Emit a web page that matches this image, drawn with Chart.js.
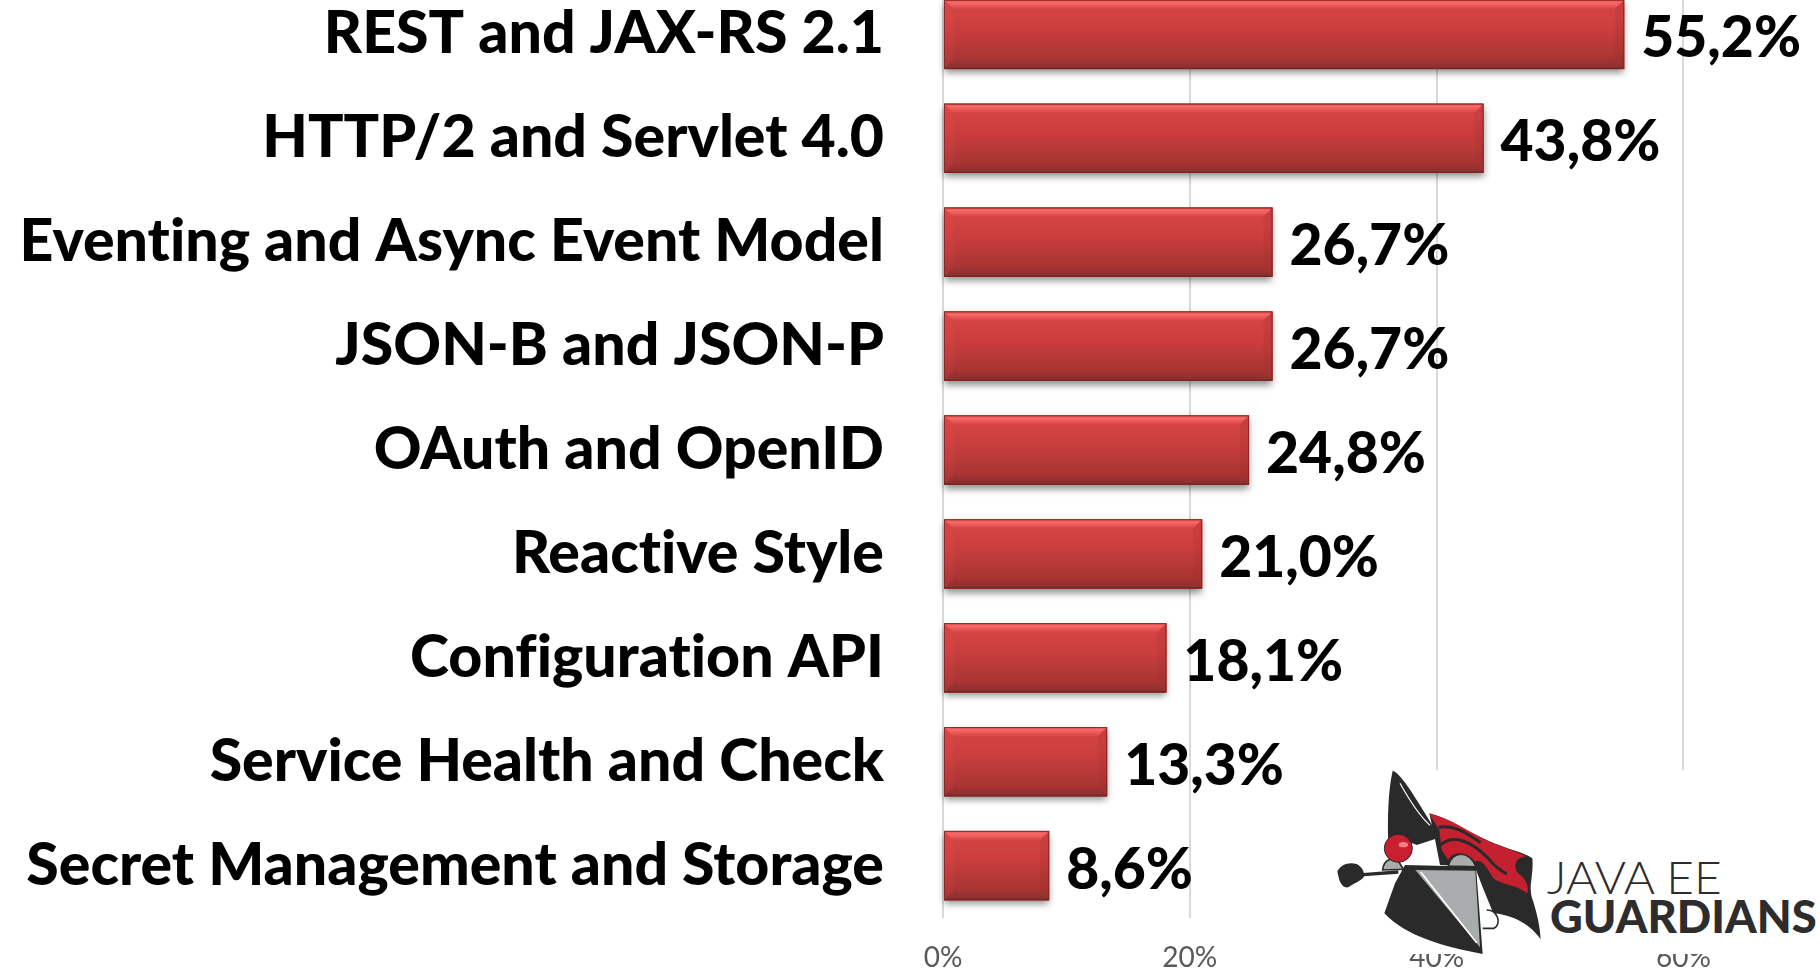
<!DOCTYPE html>
<html>
<head>
<meta charset="utf-8">
<title>Java EE 8 features</title>
<script src="https://cdn.jsdelivr.net/npm/chart.js@4"></script>
<style>
    html, body { margin: 0; padding: 0; width: 1820px; height: 969px; overflow: hidden; background: #fff; }
    #wrap { position: absolute; left: 0; top: -18px; width: 1820px; height: 987px; }
    #logo { position: absolute; left: 1320px; top: 750px; width: 500px; height: 219px; }
</style>
</head>
<body>
<div id="wrap"><canvas id="featureChart"></canvas></div>

<svg id="logo" viewBox="0 0 1500 657">
    <rect x="0" y="60" width="1500" height="552" fill="#fff"/>
    <!-- cape -->
    <path d="M345,268 L328,190 C375,200 430,240 500,270 C560,298 610,305 637,325 C642,380 622,410 640,455 C652,495 660,530 662,568 C625,515 570,495 520,490 C505,450 490,420 465,350 L360,345 Z" fill="#2b2a2b"/>
    <path d="M328,192 C375,198 425,232 470,255 C520,285 585,300 625,322 C590,328 575,345 595,370 C615,385 628,405 622,430 C590,405 545,405 520,385 C500,350 485,325 465,335 C440,305 400,300 385,330 L365,300 L358,240 Z" fill="#c4202f"/>
    <path d="M356,232 C400,222 440,250 482,278 M362,285 C400,250 455,275 505,325 C520,345 540,360 560,372 M600,350 C590,340 585,330 625,322" fill="none" stroke="#2b2a2b" stroke-width="9"/>
    <path d="M385,348 C395,302 450,300 467,350 Z" fill="#a9acad" stroke="#2b2a2b" stroke-width="4"/>
    <!-- hat -->
    <path d="M218,62 C245,70 290,150 345,238 L357,263 L290,285 C255,268 225,265 205,282 C202,200 205,120 218,62 Z" fill="#2b2a2b"/>
    <path d="M240,100 C265,145 295,195 330,226" fill="none" stroke="#fff" stroke-width="3.5"/>
    <!-- nose and mace -->
    <path d="M188,360 C192,325 218,322 236,335 L250,358 Z" fill="#a9acad" stroke="#2b2a2b" stroke-width="5"/>
    <path d="M130,374 L235,366" stroke="#2b2a2b" stroke-width="10"/>
    <path d="M52,365 C60,345 85,335 110,342 C125,350 135,365 132,380 C120,395 100,400 85,412 C70,415 62,400 58,390 Z" fill="#2b2a2b"/>
    <circle cx="235" cy="295" r="42" fill="#c91f2e" stroke="#2b2a2b" stroke-width="3"/>
    <ellipse cx="250" cy="284" rx="14" ry="8" fill="#f4808a"/>
    <!-- shield -->
    <path d="M500,480 C530,478 548,520 522,535 L488,535" fill="#fff" stroke="#2b2a2b" stroke-width="5"/>
    <path d="M255,345 L468,350 L488,612 C370,590 260,560 193,490 L225,400 Z" fill="#2b2a2b"/>
    <path d="M286,360 L466,362 L480,592 Z" fill="#a9acad"/>
    <path d="M302,366 L470,578" stroke="#fff" stroke-width="5"/>
    <!-- wordmark -->
    <text x="680" y="432" font-family="Lato, 'Open Sans'" font-weight="300" font-size="135" fill="#2e2c2c" textLength="525" lengthAdjust="spacingAndGlyphs">JAVA EE</text>
    <text x="690" y="548" font-family="Lato, 'Open Sans'" font-weight="900" font-size="135" fill="#2e2c2c" textLength="800" lengthAdjust="spacingAndGlyphs">GUARDIANS</text>
</svg>

<script>
const categories = [
    'REST and JAX-RS 2.1',
    'HTTP/2 and Servlet 4.0',
    'Eventing and Async Event Model',
    'JSON-B and JSON-P',
    'OAuth and OpenID',
    'Reactive Style',
    'Configuration API',
    'Service Health and Check',
    'Secret Management and Storage'
];
const percentages = [55.2, 43.8, 26.7, 26.7, 24.8, 21.0, 18.1, 13.3, 8.6];
const axisMax = 70.5;
const axisStep = 20;

// a tiny letter spacing switches off the ti and fi ligatures of Lato
const noLigatures = {
    id: 'noLigatures',
    beforeDraw(chart) {
        chart.ctx.letterSpacing = '0.01px';
    }
};

// soft shadow under each bar, has to sit below the bars
const barShadow = {
    id: 'barShadow',
    beforeDatasetsDraw(chart) {
        const ctx = chart.ctx;
        ctx.save();
        ctx.shadowColor = 'rgba(0,0,0,0.45)';
        ctx.shadowBlur = 7;
        ctx.shadowOffsetY = 4;
        ctx.fillStyle = '#8a3030';
        chart.getDatasetMeta(0).data.forEach(bar => {
            const p = bar.getProps(['x', 'y', 'base', 'height']);
            ctx.fillRect(p.base, p.y - p.height / 2, p.x - p.base, p.height);
        });
        ctx.restore();
    }
};

// bevel look of the bars, painted over the plain rectangles
const barBevel = {
    id: 'barBevel',
    afterDatasetsDraw(chart) {
        const ctx = chart.ctx;
        const b = 9;
        chart.getDatasetMeta(0).data.forEach(bar => {
            const p = bar.getProps(['x', 'y', 'base', 'height']);
            const l = p.base, r = p.x, t = p.y - p.height / 2, h = p.height, e = t + h;

            const body = ctx.createLinearGradient(0, t, 0, e);
            body.addColorStop(0, '#d84545');
            body.addColorStop(0.4, '#cb3f3e');
            body.addColorStop(0.85, '#a93533');
            body.addColorStop(1, '#9a3230');
            ctx.fillStyle = body;
            ctx.fillRect(l, t, r - l, h);

            const top = ctx.createLinearGradient(0, t, 0, t + b);
            top.addColorStop(0, '#d94a4a');
            top.addColorStop(0.3, '#fb6a68');
            top.addColorStop(1, '#d84747');
            ctx.fillStyle = top;
            trapezoid(ctx, l, t, r, t, r - b, t + b, l + b, t + b);

            const bottom = ctx.createLinearGradient(0, e - b, 0, e);
            bottom.addColorStop(0, '#a33432');
            bottom.addColorStop(0.75, '#8c3230');
            bottom.addColorStop(1, '#6f2826');
            ctx.fillStyle = bottom;
            trapezoid(ctx, l, e, r, e, r - b, e - b, l + b, e - b);

            ctx.fillStyle = 'rgba(150,45,45,0.18)';
            trapezoid(ctx, r, t, r, e, r - b, e - b, r - b, t + b);
            ctx.fillStyle = 'rgba(235,90,90,0.12)';
            trapezoid(ctx, l, t, l, e, l + b, e - b, l + b, t + b);

            ctx.strokeStyle = 'rgba(125,35,35,0.8)';
            ctx.lineWidth = 1;
            ctx.strokeRect(l + 0.5, t + 0.5, r - l - 1, h - 1);
        });
    }
};

function trapezoid(ctx, x1, y1, x2, y2, x3, y3, x4, y4) {
    ctx.beginPath();
    ctx.moveTo(x1, y1);
    ctx.lineTo(x2, y2);
    ctx.lineTo(x3, y3);
    ctx.lineTo(x4, y4);
    ctx.closePath();
    ctx.fill();
}

const valueLabels = {
    id: 'valueLabels',
    afterDatasetsDraw(chart) {
        const ctx = chart.ctx;
        ctx.save();
        ctx.font = '900 57px Lato';
        ctx.fillStyle = '#000';
        ctx.textAlign = 'left';
        ctx.textBaseline = 'alphabetic';
        chart.getDatasetMeta(0).data.forEach((bar, i) => {
            const text = percentages[i].toFixed(1).replace('.', ',') + '%';
            ctx.fillText(text, bar.x + 17, bar.y + 23);
        });
        ctx.restore();
    }
};

new Chart(document.getElementById('featureChart'), {
    type: 'bar',
    data: {
        labels: categories,
        datasets: [{
            data: percentages,
            backgroundColor: '#c43c3c',
            barPercentage: 0.667,
            categoryPercentage: 1
        }]
    },
    options: {
        indexAxis: 'y',
        responsive: true,
        maintainAspectRatio: false,
        animation: false,
        layout: { padding: { top: 0.5, right: 7, left: 0, bottom: 0 } },
        plugins: {
            legend: { display: false },
            tooltip: { enabled: false }
        },
        scales: {
            y: {
                // the big labels would otherwise push the plot area inwards
                afterFit(axis) {
                    axis.width = 943;
                    axis.paddingTop = 0;
                    axis.paddingBottom = 0;
                },
                grid: { display: false },
                border: { display: false },
                ticks: {
                    color: '#000',
                    padding: 51,
                    autoSkip: false,
                    font: { family: 'Lato', weight: '900', size: 59 }
                }
            },
            x: {
                min: 0,
                max: axisMax,
                afterFit(axis) {
                    axis.height = 51.5;
                    axis.paddingLeft = 0;
                    axis.paddingRight = 0;
                },
                grid: { color: '#d9d9d9', lineWidth: 2, drawTicks: false },
                border: { display: false },
                ticks: {
                    color: '#595959',
                    stepSize: axisStep,
                    includeBounds: false,
                    padding: 24,
                    maxRotation: 0,
                    callback: value => value + '%',
                    font: { family: 'Lato', size: 28 }
                }
            }
        }
    },
    plugins: [noLigatures, barShadow, barBevel, valueLabels]
});
</script>
</body>
</html>
